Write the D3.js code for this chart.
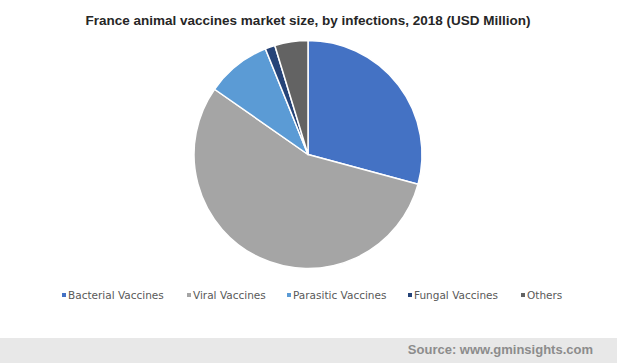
<!DOCTYPE html>
<html><head><meta charset="utf-8">
<script src="https://cdn.jsdelivr.net/npm/d3@7"></script>
<style>body{margin:0;background:#fff;}svg{display:block;}</style>
</head><body>
<svg id="c" width="617" height="363"></svg>
<script>
const categories = ["Bacterial Vaccines","Viral Vaccines","Parasitic Vaccines","Fungal Vaccines","Others"];
const values = [29.2, 55.5, 9.2, 1.4, 4.7];
const colors = ["#4472C4","#A5A5A5","#5B9BD5","#264478","#636363"];
const title = "France animal vaccines market size, by infections, 2018 (USD Million)";
const source = "Source: www.gminsights.com";

const svg = d3.select("#c");
svg.append("rect").attr("x",0).attr("y",0).attr("width",617).attr("height",363).attr("fill","#fff");

svg.append("text").attr("x",308).attr("y",25).attr("text-anchor","middle")
  .attr("font-family","Liberation Sans, Arial, sans-serif").attr("font-weight","bold")
  .attr("font-size",13.5).attr("fill","#262626").text(title);

const pie = d3.pie().sort(null).value(d=>d)(values);
const arc = d3.arc().innerRadius(0).outerRadius(114);
const g = svg.append("g").attr("transform","translate(308,154.5)");
g.selectAll("path").data(pie).join("path")
  .attr("d",arc).attr("fill",(d,i)=>colors[i])
  .attr("stroke","#fff").attr("stroke-width",1.5).attr("stroke-linejoin","round");

const legendX = [62,187,287,408,521];
const lg = svg.append("g");
categories.forEach((c,i)=>{
  lg.append("rect").attr("x",legendX[i]).attr("y",293).attr("width",4).attr("height",4).attr("fill",colors[i]);
  lg.append("text").attr("x",legendX[i]+6).attr("y",299)
    .attr("font-family","DejaVu Sans, Verdana, sans-serif").attr("font-size",10.5)
    .attr("fill","#595959").text(c);
});

svg.append("rect").attr("x",0).attr("y",338).attr("width",617).attr("height",25).attr("fill","#e8e8e8");
svg.append("text").attr("x",593).attr("y",354).attr("text-anchor","end")
  .attr("font-family","Liberation Sans, Arial, sans-serif").attr("font-weight","bold")
  .attr("font-size",13).attr("fill","#8c8c8c").text(source);
</script>
</body></html>
